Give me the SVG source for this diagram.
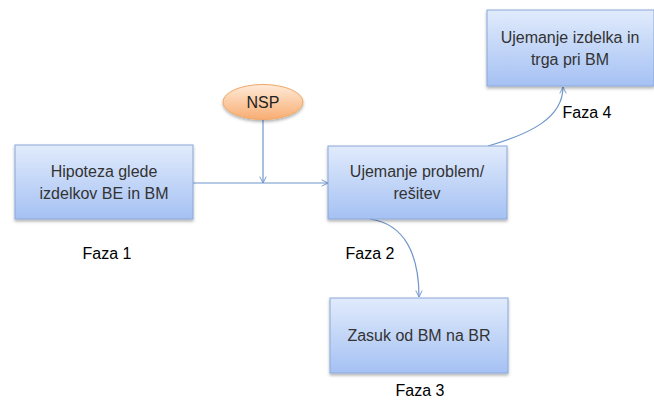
<svg xmlns="http://www.w3.org/2000/svg" width="654" height="403" viewBox="0 0 654 403">
<style>
.box{fill:url(#gb);stroke:#8aa8d8;stroke-width:1;filter:url(#sh)}
.t{font-family:"Liberation Sans",Arial,sans-serif;font-size:16px;fill:#333;text-anchor:middle}
.f{font-family:"Liberation Sans",Arial,sans-serif;font-size:16px;fill:#000;text-anchor:middle}
.c{fill:none;stroke:#6f96cc;stroke-width:1.2;marker-end:url(#ar)}
</style>
<defs>
<linearGradient id="gb" x1="0" y1="0" x2="0" y2="1"><stop offset="0" stop-color="#e1ebfc"/><stop offset="1" stop-color="#a5c1f3"/></linearGradient>
<linearGradient id="go" x1="0" y1="0" x2="0" y2="1"><stop offset="0" stop-color="#feead8"/><stop offset="1" stop-color="#f8ad72"/></linearGradient>
<filter id="sh" x="-10%" y="-10%" width="120%" height="130%"><feDropShadow dx="0" dy="2" stdDeviation="1.5" flood-color="#000" flood-opacity="0.3"/></filter>
<marker id="ar" viewBox="0 0 10 10" refX="9" refY="5" markerWidth="8" markerHeight="8" orient="auto" markerUnits="userSpaceOnUse"><path d="M1,1 L9,5 L1,9" fill="none" stroke="#6f96cc" stroke-width="1.2"/></marker>
</defs>
<g id="connectors">
<path class="c" d="M263,120 L263,183"/>
<path class="c" d="M193,183 L328,183"/>
<path class="c" d="M488,146 C530,134 563,118 563,87"/>
<path class="c" d="M370,219 C405,224 419,255 419,297"/>
</g>
<g id="n1"><rect class="box" x="15" y="145" width="178" height="74"/><text class="t" x="104" y="177">Hipoteza glede</text><text class="t" x="104" y="199">izdelkov BE in BM</text></g>
<g id="nsp"><ellipse cx="263" cy="102" rx="40" ry="17.5" fill="url(#go)" stroke="#f0a868" filter="url(#sh)"/><text class="f" x="263" y="108" style="fill:#222">NSP</text></g>
<g id="n2"><rect class="box" x="328" y="146" width="179" height="73"/><text class="t" x="417" y="177">Ujemanje problem/</text><text class="t" x="417" y="199">rešitev</text></g>
<g id="n4"><rect class="box" x="487" y="10" width="167" height="76"/><text class="t" x="570" y="43">Ujemanje izdelka in</text><text class="t" x="570" y="65">trga pri BM</text></g>
<g id="n3"><rect class="box" x="330" y="298" width="178" height="75"/><text class="t" x="419" y="341">Zasuk od BM na BR</text></g>
<text class="f" x="107" y="259">Faza 1</text>
<text class="f" x="370" y="259">Faza 2</text>
<text class="f" x="420" y="396">Faza 3</text>
<text class="f" x="587" y="118">Faza 4</text>
</svg>
